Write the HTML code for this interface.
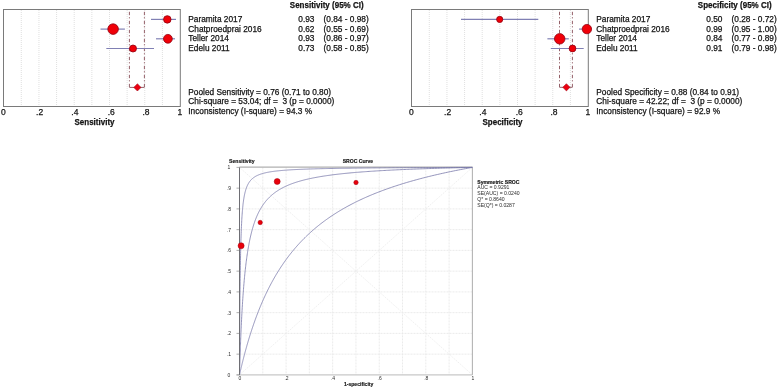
<!DOCTYPE html>
<html><head><meta charset="utf-8"><style>
html,body{margin:0;padding:0;background:#fff;width:778px;height:388px;overflow:hidden}
svg{display:block;white-space:pre;}
text{filter:grayscale(1);stroke:#222;stroke-width:0.25px;paint-order:stroke}
text.s{stroke:none;fill:#2a2a2a}
text.s[font-weight=bold]{stroke:#222;stroke-width:0.15px;fill:#111}
svg{font-family:"Liberation Sans",sans-serif}
</style></head><body>
<svg width="778" height="388" viewBox="0 0 778 388" font-family="Liberation Sans"><line x1="21.30" y1="10.0" x2="21.30" y2="106.0" stroke="#d8d8d8" stroke-width="0.8" stroke-dasharray="1,1"/>
<line x1="38.94" y1="10.0" x2="38.94" y2="106.0" stroke="#d8d8d8" stroke-width="0.8" stroke-dasharray="1,1"/>
<line x1="56.58" y1="10.0" x2="56.58" y2="106.0" stroke="#d8d8d8" stroke-width="0.8" stroke-dasharray="1,1"/>
<line x1="74.22" y1="10.0" x2="74.22" y2="106.0" stroke="#d8d8d8" stroke-width="0.8" stroke-dasharray="1,1"/>
<line x1="91.86" y1="10.0" x2="91.86" y2="106.0" stroke="#d8d8d8" stroke-width="0.8" stroke-dasharray="1,1"/>
<line x1="109.50" y1="10.0" x2="109.50" y2="106.0" stroke="#d8d8d8" stroke-width="0.8" stroke-dasharray="1,1"/>
<line x1="127.14" y1="10.0" x2="127.14" y2="106.0" stroke="#d8d8d8" stroke-width="0.8" stroke-dasharray="1,1"/>
<line x1="144.78" y1="10.0" x2="144.78" y2="106.0" stroke="#d8d8d8" stroke-width="0.8" stroke-dasharray="1,1"/>
<line x1="162.42" y1="10.0" x2="162.42" y2="106.0" stroke="#d8d8d8" stroke-width="0.8" stroke-dasharray="1,1"/>
<rect x="3.5" y="9.5" width="176.80" height="97.0" fill="none" stroke="#7a7a7a" stroke-width="1"/>
<text x="3.36" y="114.6" font-size="8.5" text-anchor="middle" fill="#111">0</text>
<text x="39.64" y="114.6" font-size="8.5" text-anchor="middle" fill="#111">.2</text>
<text x="74.92" y="114.6" font-size="8.5" text-anchor="middle" fill="#111">.4</text>
<text x="111.20" y="114.6" font-size="8.5" text-anchor="middle" fill="#111">.6</text>
<text x="145.98" y="114.6" font-size="8.5" text-anchor="middle" fill="#111">.8</text>
<text x="179.86" y="114.6" font-size="8.5" text-anchor="middle" fill="#111">1</text>
<text x="74.5" y="124.6" font-size="8.7" font-weight="bold" textLength="40" lengthAdjust="spacingAndGlyphs" fill="#111">Sensitivity</text>
<line x1="129.40" y1="10.0" x2="129.40" y2="87.4" stroke="#946068" stroke-width="1" stroke-dasharray="3.4,2,1.2,2.4" stroke-dashoffset="-1.8"/>
<line x1="144.40" y1="10.0" x2="144.40" y2="87.4" stroke="#946068" stroke-width="1" stroke-dasharray="3.4,2,1.2,2.4" stroke-dashoffset="-1.8"/>
<line x1="129.40" y1="87.4" x2="144.40" y2="87.4" stroke="#946068" stroke-width="1"/>
<polygon points="133.80,87.4 137.40,83.80000000000001 141.00,87.4 137.40,91.0" fill="#ec0010" stroke="#a01020" stroke-width="0.6"/>
<line x1="151.00" y1="19.4" x2="176.00" y2="19.4" stroke="#8080b4" stroke-width="1.2"/>
<circle cx="167.30" cy="19.4" r="3.75" fill="#f00008" stroke="#900010" stroke-width="0.8"/>
<text x="188.3" y="21.9" font-size="8.3" fill="#111">Paramita 2017</text>
<text x="298.3" y="21.9" font-size="8.3" fill="#111">0.93</text>
<text x="323.5" y="21.9" font-size="8.3" fill="#111">(0.84 - 0.98)</text>
<line x1="100.50" y1="29.1" x2="124.90" y2="29.1" stroke="#8080b4" stroke-width="1.2"/>
<circle cx="113.10" cy="29.1" r="5.3" fill="#f00008" stroke="#900010" stroke-width="0.8"/>
<text x="188.3" y="31.6" font-size="8.3" fill="#111">Chatproedprai 2016</text>
<text x="298.3" y="31.6" font-size="8.3" fill="#111">0.62</text>
<text x="323.5" y="31.6" font-size="8.3" fill="#111">(0.55 - 0.69)</text>
<line x1="156.00" y1="38.8" x2="175.00" y2="38.8" stroke="#8080b4" stroke-width="1.2"/>
<circle cx="167.90" cy="38.8" r="4.4" fill="#f00008" stroke="#900010" stroke-width="0.8"/>
<text x="188.3" y="41.4" font-size="8.3" fill="#111">Teller 2014</text>
<text x="298.3" y="41.4" font-size="8.3" fill="#111">0.93</text>
<text x="323.5" y="41.4" font-size="8.3" fill="#111">(0.86 - 0.97)</text>
<line x1="106.30" y1="48.5" x2="154.00" y2="48.5" stroke="#8080b4" stroke-width="1.2"/>
<circle cx="133.00" cy="48.5" r="3.5" fill="#f00008" stroke="#900010" stroke-width="0.8"/>
<text x="188.3" y="51.1" font-size="8.3" fill="#111">Edelu 2011</text>
<text x="298.3" y="51.1" font-size="8.3" fill="#111">0.73</text>
<text x="323.5" y="51.1" font-size="8.3" fill="#111">(0.58 - 0.85)</text>
<text x="289.8" y="7.6" font-size="8.7" font-weight="bold" textLength="73.8" lengthAdjust="spacingAndGlyphs" fill="#111">Sensitivity (95% CI)</text>
<text x="188.3" y="95.2" font-size="8.3" fill="#111">Pooled Sensitivity = 0.76 (0.71 to 0.80)</text>
<text x="188.3" y="104.4" font-size="8.3" fill="#111">Chi-square = 53.04; df = &#160;3 (p = 0.0000)</text>
<text x="188.3" y="113.8" font-size="8.3" fill="#111">Inconsistency (I-square) = 94.3 %</text>
<line x1="429.30" y1="10.0" x2="429.30" y2="106.0" stroke="#d8d8d8" stroke-width="0.8" stroke-dasharray="1,1"/>
<line x1="446.94" y1="10.0" x2="446.94" y2="106.0" stroke="#d8d8d8" stroke-width="0.8" stroke-dasharray="1,1"/>
<line x1="464.58" y1="10.0" x2="464.58" y2="106.0" stroke="#d8d8d8" stroke-width="0.8" stroke-dasharray="1,1"/>
<line x1="482.22" y1="10.0" x2="482.22" y2="106.0" stroke="#d8d8d8" stroke-width="0.8" stroke-dasharray="1,1"/>
<line x1="499.86" y1="10.0" x2="499.86" y2="106.0" stroke="#d8d8d8" stroke-width="0.8" stroke-dasharray="1,1"/>
<line x1="517.50" y1="10.0" x2="517.50" y2="106.0" stroke="#d8d8d8" stroke-width="0.8" stroke-dasharray="1,1"/>
<line x1="535.14" y1="10.0" x2="535.14" y2="106.0" stroke="#d8d8d8" stroke-width="0.8" stroke-dasharray="1,1"/>
<line x1="552.78" y1="10.0" x2="552.78" y2="106.0" stroke="#d8d8d8" stroke-width="0.8" stroke-dasharray="1,1"/>
<line x1="570.42" y1="10.0" x2="570.42" y2="106.0" stroke="#d8d8d8" stroke-width="0.8" stroke-dasharray="1,1"/>
<rect x="411.5" y="9.5" width="176.80" height="97.0" fill="none" stroke="#7a7a7a" stroke-width="1"/>
<text x="411.36" y="114.6" font-size="8.5" text-anchor="middle" fill="#111">0</text>
<text x="447.64" y="114.6" font-size="8.5" text-anchor="middle" fill="#111">.2</text>
<text x="482.92" y="114.6" font-size="8.5" text-anchor="middle" fill="#111">.4</text>
<text x="519.20" y="114.6" font-size="8.5" text-anchor="middle" fill="#111">.6</text>
<text x="553.98" y="114.6" font-size="8.5" text-anchor="middle" fill="#111">.8</text>
<text x="587.86" y="114.6" font-size="8.5" text-anchor="middle" fill="#111">1</text>
<text x="482.5" y="124.6" font-size="8.7" font-weight="bold" textLength="40" lengthAdjust="spacingAndGlyphs" fill="#111">Specificity</text>
<line x1="559.50" y1="10.0" x2="559.50" y2="87.3" stroke="#946068" stroke-width="1" stroke-dasharray="3.4,2,1.2,2.4" stroke-dashoffset="-1.8"/>
<line x1="572.40" y1="10.0" x2="572.40" y2="87.3" stroke="#946068" stroke-width="1" stroke-dasharray="3.4,2,1.2,2.4" stroke-dashoffset="-1.8"/>
<line x1="559.50" y1="87.3" x2="572.40" y2="87.3" stroke="#946068" stroke-width="1"/>
<polygon points="562.80,87.3 566.40,83.7 570.00,87.3 566.40,90.89999999999999" fill="#ec0010" stroke="#a01020" stroke-width="0.6"/>
<line x1="461.00" y1="19.4" x2="538.30" y2="19.4" stroke="#8080b4" stroke-width="1.2"/>
<circle cx="499.70" cy="19.4" r="3.1" fill="#f00008" stroke="#900010" stroke-width="0.8"/>
<text x="596.3" y="21.9" font-size="8.3" fill="#111">Paramita 2017</text>
<text x="706.3" y="21.9" font-size="8.3" fill="#111">0.50</text>
<text x="731.5" y="21.9" font-size="8.3" fill="#111">(0.28 - 0.72)</text>
<line x1="579.00" y1="29.1" x2="588.00" y2="29.1" stroke="#8080b4" stroke-width="1.2"/>
<circle cx="586.90" cy="29.1" r="4.7" fill="#f00008" stroke="#900010" stroke-width="0.8"/>
<text x="596.3" y="31.6" font-size="8.3" fill="#111">Chatproedprai 2016</text>
<text x="706.3" y="31.6" font-size="8.3" fill="#111">0.99</text>
<text x="731.5" y="31.6" font-size="8.3" fill="#111">(0.95 - 1.00)</text>
<line x1="547.40" y1="38.8" x2="568.80" y2="38.8" stroke="#8080b4" stroke-width="1.2"/>
<circle cx="559.70" cy="38.8" r="5.25" fill="#f00008" stroke="#900010" stroke-width="0.8"/>
<text x="596.3" y="41.4" font-size="8.3" fill="#111">Teller 2014</text>
<text x="706.3" y="41.4" font-size="8.3" fill="#111">0.84</text>
<text x="731.5" y="41.4" font-size="8.3" fill="#111">(0.77 - 0.89)</text>
<line x1="550.80" y1="48.5" x2="583.70" y2="48.5" stroke="#8080b4" stroke-width="1.2"/>
<circle cx="572.50" cy="48.5" r="3.4" fill="#f00008" stroke="#900010" stroke-width="0.8"/>
<text x="596.3" y="51.1" font-size="8.3" fill="#111">Edelu 2011</text>
<text x="706.3" y="51.1" font-size="8.3" fill="#111">0.91</text>
<text x="731.5" y="51.1" font-size="8.3" fill="#111">(0.79 - 0.98)</text>
<text x="697.8" y="7.6" font-size="8.7" font-weight="bold" textLength="73.8" lengthAdjust="spacingAndGlyphs" fill="#111">Specificity (95% CI)</text>
<text x="596.3" y="95.2" font-size="8.3" fill="#111">Pooled Specificity = 0.88 (0.84 to 0.91)</text>
<text x="596.3" y="104.4" font-size="8.3" fill="#111">Chi-square = 42.22; df = &#160;3 (p = 0.0000)</text>
<text x="596.3" y="113.8" font-size="8.3" fill="#111">Inconsistency (I-square) = 92.9 %</text>
<line x1="262.79" y1="167.4" x2="262.79" y2="374.9" stroke="#e9e9e9" stroke-width="0.9" stroke-dasharray="2,1"/>
<line x1="239.5" y1="354.15" x2="472.4" y2="354.15" stroke="#e9e9e9" stroke-width="0.9" stroke-dasharray="2,1"/>
<line x1="286.08" y1="167.4" x2="286.08" y2="374.9" stroke="#e9e9e9" stroke-width="0.9" stroke-dasharray="2,1"/>
<line x1="239.5" y1="333.40" x2="472.4" y2="333.40" stroke="#e9e9e9" stroke-width="0.9" stroke-dasharray="2,1"/>
<line x1="309.37" y1="167.4" x2="309.37" y2="374.9" stroke="#e9e9e9" stroke-width="0.9" stroke-dasharray="2,1"/>
<line x1="239.5" y1="312.65" x2="472.4" y2="312.65" stroke="#e9e9e9" stroke-width="0.9" stroke-dasharray="2,1"/>
<line x1="332.66" y1="167.4" x2="332.66" y2="374.9" stroke="#e9e9e9" stroke-width="0.9" stroke-dasharray="2,1"/>
<line x1="239.5" y1="291.90" x2="472.4" y2="291.90" stroke="#e9e9e9" stroke-width="0.9" stroke-dasharray="2,1"/>
<line x1="355.95" y1="167.4" x2="355.95" y2="374.9" stroke="#e9e9e9" stroke-width="0.9" stroke-dasharray="2,1"/>
<line x1="239.5" y1="271.15" x2="472.4" y2="271.15" stroke="#e9e9e9" stroke-width="0.9" stroke-dasharray="2,1"/>
<line x1="379.24" y1="167.4" x2="379.24" y2="374.9" stroke="#e9e9e9" stroke-width="0.9" stroke-dasharray="2,1"/>
<line x1="239.5" y1="250.40" x2="472.4" y2="250.40" stroke="#e9e9e9" stroke-width="0.9" stroke-dasharray="2,1"/>
<line x1="402.53" y1="167.4" x2="402.53" y2="374.9" stroke="#e9e9e9" stroke-width="0.9" stroke-dasharray="2,1"/>
<line x1="239.5" y1="229.65" x2="472.4" y2="229.65" stroke="#e9e9e9" stroke-width="0.9" stroke-dasharray="2,1"/>
<line x1="425.82" y1="167.4" x2="425.82" y2="374.9" stroke="#e9e9e9" stroke-width="0.9" stroke-dasharray="2,1"/>
<line x1="239.5" y1="208.90" x2="472.4" y2="208.90" stroke="#e9e9e9" stroke-width="0.9" stroke-dasharray="2,1"/>
<line x1="449.11" y1="167.4" x2="449.11" y2="374.9" stroke="#e9e9e9" stroke-width="0.9" stroke-dasharray="2,1"/>
<line x1="239.5" y1="188.15" x2="472.4" y2="188.15" stroke="#e9e9e9" stroke-width="0.9" stroke-dasharray="2,1"/>
<line x1="239.5" y1="374.9" x2="472.4" y2="167.4" stroke="#ebebeb" stroke-width="0.8" stroke-dasharray="1.5,1"/>
<line x1="239.5" y1="167.4" x2="472.4" y2="374.9" stroke="#ebebeb" stroke-width="0.8" stroke-dasharray="1.5,1"/>
<line x1="239.5" y1="167.1" x2="472.4" y2="167.1" stroke="#b0b0b0" stroke-width="1.2"/>
<line x1="472.4" y1="167.4" x2="472.4" y2="374.9" stroke="#b4b4b4" stroke-width="1.1"/>
<line x1="236.5" y1="374.9" x2="472.4" y2="374.9" stroke="#c8c8c8" stroke-width="1.4"/>
<line x1="236.5" y1="374.90" x2="239.5" y2="374.90" stroke="#9a9a9a" stroke-width="0.8"/>
<line x1="236.5" y1="354.15" x2="239.5" y2="354.15" stroke="#9a9a9a" stroke-width="0.8"/>
<line x1="236.5" y1="333.40" x2="239.5" y2="333.40" stroke="#9a9a9a" stroke-width="0.8"/>
<line x1="236.5" y1="312.65" x2="239.5" y2="312.65" stroke="#9a9a9a" stroke-width="0.8"/>
<line x1="236.5" y1="291.90" x2="239.5" y2="291.90" stroke="#9a9a9a" stroke-width="0.8"/>
<line x1="236.5" y1="271.15" x2="239.5" y2="271.15" stroke="#9a9a9a" stroke-width="0.8"/>
<line x1="236.5" y1="250.40" x2="239.5" y2="250.40" stroke="#9a9a9a" stroke-width="0.8"/>
<line x1="236.5" y1="229.65" x2="239.5" y2="229.65" stroke="#9a9a9a" stroke-width="0.8"/>
<line x1="236.5" y1="208.90" x2="239.5" y2="208.90" stroke="#9a9a9a" stroke-width="0.8"/>
<line x1="236.5" y1="188.15" x2="239.5" y2="188.15" stroke="#9a9a9a" stroke-width="0.8"/>
<line x1="236.5" y1="167.40" x2="239.5" y2="167.40" stroke="#9a9a9a" stroke-width="0.8"/>
<polyline points="239.50,374.90 239.50,374.90 239.50,374.90 239.50,374.90 239.50,374.90 239.50,374.90 239.50,374.90 239.50,374.89 239.50,374.89 239.50,374.89 239.50,374.88 239.50,374.88 239.51,374.87 239.51,374.86 239.51,374.86 239.51,374.85 239.51,374.83 239.52,374.82 239.52,374.81 239.52,374.79 239.53,374.77 239.53,374.75 239.54,374.73 239.54,374.70 239.55,374.68 239.56,374.65 239.56,374.62 239.57,374.58 239.58,374.54 239.59,374.51 239.60,374.46 239.61,374.42 239.62,374.37 239.63,374.32 239.64,374.26 239.66,374.21 239.67,374.15 239.68,374.08 239.70,374.01 239.72,373.94 239.73,373.87 239.75,373.79 239.77,373.70 239.79,373.62 239.81,373.53 239.83,373.43 239.85,373.33 239.88,373.23 239.90,373.12 239.93,373.01 239.95,372.89 239.98,372.77 240.01,372.64 240.04,372.51 240.07,372.37 240.11,372.23 240.14,372.08 240.17,371.93 240.21,371.77 240.25,371.61 240.29,371.44 240.33,371.27 240.37,371.09 240.41,370.91 240.45,370.72 240.50,370.52 240.55,370.32 240.59,370.11 240.64,369.90 240.70,369.68 240.75,369.45 240.80,369.22 240.86,368.98 240.92,368.74 240.97,368.49 241.04,368.23 241.10,367.97 241.16,367.70 241.23,367.42 241.29,367.14 241.36,366.85 241.43,366.56 241.51,366.25 241.58,365.95 241.66,365.63 241.73,365.31 241.81,364.98 241.90,364.64 241.98,364.30 242.07,363.95 242.15,363.59 242.24,363.23 242.33,362.86 242.43,362.48 242.52,362.09 242.62,361.70 242.72,361.30 242.82,360.90 242.93,360.48 243.03,360.06 243.14,359.63 243.25,359.20 243.36,358.76 243.48,358.31 243.59,357.85 243.71,357.39 243.83,356.92 243.96,356.44 244.08,355.96 244.21,355.47 244.34,354.97 244.48,354.46 244.61,353.95 244.75,353.43 244.89,352.91 245.03,352.37 245.18,351.83 245.33,351.29 245.48,350.73 245.63,350.17 245.79,349.61 245.95,349.03 246.11,348.45 246.27,347.86 246.44,347.27 246.61,346.67 246.78,346.06 246.95,345.45 247.13,344.83 247.31,344.20 247.50,343.57 247.68,342.93 247.87,342.29 248.06,341.63 248.26,340.98 248.45,340.31 248.65,339.65 248.86,338.97 249.06,338.29 249.27,337.60 249.49,336.91 249.70,336.21 249.92,335.51 250.14,334.80 250.37,334.09 250.59,333.37 250.83,332.65 251.06,331.92 251.30,331.18 251.54,330.44 251.78,329.70 252.03,328.95 252.28,328.20 252.53,327.44 252.79,326.68 253.05,325.91 253.32,325.14 253.58,324.36 253.85,323.58 254.13,322.80 254.41,322.01 254.69,321.22 254.97,320.43 255.26,319.63 255.55,318.82 255.85,318.02 256.15,317.21 256.45,316.40 256.76,315.58 257.07,314.76 257.38,313.94 257.70,313.12 258.02,312.29 258.34,311.46 258.67,310.63 259.00,309.79 259.34,308.96 259.68,308.12 260.02,307.28 260.37,306.43 260.72,305.59 261.08,304.74 261.44,303.89 261.80,303.04 262.17,302.19 262.54,301.33 262.92,300.48 263.30,299.62 263.68,298.76 264.07,297.91 264.46,297.05 264.86,296.18 265.26,295.32 265.66,294.46 266.07,293.60 266.48,292.73 266.90,291.87 267.32,291.01 267.75,290.14 268.18,289.28 268.61,288.41 269.05,287.55 269.49,286.68 269.94,285.82 270.39,284.96 270.85,284.09 271.31,283.23 271.78,282.37 272.25,281.50 272.72,280.64 273.20,279.78 273.69,278.92 274.17,278.06 274.67,277.20 275.16,276.35 275.67,275.49 276.17,274.64 276.69,273.78 277.20,272.93 277.72,272.08 278.25,271.23 278.78,270.38 279.32,269.54 279.86,268.69 280.40,267.85 280.95,267.01 281.51,266.17 282.07,265.33 282.63,264.50 283.20,263.66 283.78,262.83 284.36,262.00 284.94,261.18 285.53,260.35 286.13,259.53 286.73,258.71 287.33,257.89 287.94,257.08 288.56,256.26 289.18,255.45 289.81,254.65 290.44,253.84 291.07,253.04 291.72,252.24 292.36,251.44 293.02,250.65 293.67,249.86 294.34,249.07 295.01,248.28 295.68,247.50 296.36,246.72 297.05,245.95 297.74,245.17 298.43,244.40 299.13,243.64 299.84,242.87 300.55,242.11 301.27,241.35 302.00,240.60 302.72,239.85 303.46,239.10 304.20,238.35 304.95,237.61 305.70,236.87 306.46,236.14 307.22,235.41 307.99,234.68 308.77,233.96 309.55,233.23 310.33,232.52 311.13,231.80 311.93,231.09 312.73,230.38 313.54,229.68 314.36,228.98 315.18,228.28 316.01,227.59 316.84,226.90 317.69,226.21 318.53,225.53 319.38,224.85 320.24,224.17 321.11,223.50 321.98,222.83 322.86,222.17 323.74,221.51 324.63,220.85 325.53,220.20 326.43,219.54 327.34,218.90 328.25,218.25 329.17,217.61 330.10,216.98 331.04,216.35 331.98,215.72 332.92,215.09 333.88,214.47 334.84,213.85 335.80,213.24 336.78,212.62 337.75,212.02 338.74,211.41 339.73,210.81 340.73,210.22 341.74,209.62 342.75,209.03 343.77,208.45 344.79,207.86 345.83,207.28 346.87,206.71 347.91,206.14 348.96,205.57 350.02,205.00 351.09,204.44 352.16,203.88 353.24,203.33 354.33,202.78 355.42,202.23 356.52,201.68 357.63,201.14 358.74,200.61 359.87,200.07 360.99,199.54 362.13,199.01 363.27,198.49 364.42,197.97 365.58,197.45 366.74,196.94 367.91,196.43 369.09,195.92 370.28,195.42 371.47,194.92 372.67,194.42 373.88,193.92 375.09,193.43 376.31,192.94 377.54,192.46 378.78,191.98 380.02,191.50 381.27,191.03 382.53,190.55 383.80,190.08 385.07,189.62 386.35,189.16 387.64,188.70 388.93,188.24 390.24,187.79 391.55,187.34 392.87,186.89 394.19,186.45 395.52,186.00 396.87,185.57 398.21,185.13 399.57,184.70 400.94,184.27 402.31,183.84 403.69,183.42 405.07,183.00 406.47,182.58 407.87,182.16 409.28,181.75 410.70,181.34 412.13,180.94 413.56,180.53 415.01,180.13 416.46,179.73 417.92,179.34 419.38,178.94 420.86,178.55 422.34,178.17 423.83,177.78 425.33,177.40 426.83,177.02 428.35,176.64 429.87,176.27 431.40,175.90 432.94,175.53 434.49,175.16 436.05,174.80 437.61,174.44 439.18,174.08 440.76,173.72 442.35,173.37 443.95,173.02 445.56,172.67 447.17,172.32 448.79,171.98 450.42,171.63 452.06,171.29 453.71,170.96 455.37,170.62 457.03,170.29 458.70,169.96 460.39,169.63 462.08,169.31 463.77,168.98 465.48,168.66 467.20,168.34 468.92,168.03 470.66,167.71 472.40,167.40" fill="none" stroke="#7878aa" stroke-width="0.8"/>
<polyline points="239.50,374.90 239.50,374.90 239.50,374.90 239.50,374.90 239.50,374.89 239.50,374.88 239.50,374.87 239.50,374.86 239.50,374.83 239.50,374.80 239.50,374.77 239.50,374.73 239.51,374.67 239.51,374.61 239.51,374.54 239.51,374.46 239.51,374.37 239.52,374.26 239.52,374.14 239.52,374.01 239.53,373.86 239.53,373.69 239.54,373.52 239.54,373.32 239.55,373.11 239.56,372.87 239.56,372.62 239.57,372.35 239.58,372.07 239.59,371.76 239.60,371.42 239.61,371.07 239.62,370.70 239.63,370.30 239.64,369.88 239.66,369.43 239.67,368.96 239.68,368.47 239.70,367.95 239.72,367.41 239.73,366.84 239.75,366.25 239.77,365.63 239.79,364.98 239.81,364.31 239.83,363.61 239.85,362.88 239.88,362.13 239.90,361.35 239.93,360.54 239.95,359.71 239.98,358.85 240.01,357.96 240.04,357.05 240.07,356.11 240.11,355.15 240.14,354.16 240.17,353.14 240.21,352.10 240.25,351.04 240.29,349.95 240.33,348.83 240.37,347.70 240.41,346.54 240.45,345.36 240.50,344.15 240.55,342.93 240.59,341.68 240.64,340.42 240.70,339.13 240.75,337.83 240.80,336.51 240.86,335.17 240.92,333.82 240.97,332.45 241.04,331.06 241.10,329.66 241.16,328.25 241.23,326.83 241.29,325.39 241.36,323.94 241.43,322.48 241.51,321.01 241.58,319.54 241.66,318.05 241.73,316.56 241.81,315.07 241.90,313.56 241.98,312.05 242.07,310.54 242.15,309.03 242.24,307.51 242.33,305.99 242.43,304.47 242.52,302.95 242.62,301.43 242.72,299.92 242.82,298.40 242.93,296.89 243.03,295.37 243.14,293.87 243.25,292.36 243.36,290.87 243.48,289.37 243.59,287.89 243.71,286.41 243.83,284.93 243.96,283.47 244.08,282.01 244.21,280.56 244.34,279.12 244.48,277.69 244.61,276.27 244.75,274.85 244.89,273.45 245.03,272.06 245.18,270.68 245.33,269.31 245.48,267.95 245.63,266.61 245.79,265.27 245.95,263.95 246.11,262.64 246.27,261.34 246.44,260.06 246.61,258.78 246.78,257.52 246.95,256.28 247.13,255.04 247.31,253.82 247.50,252.62 247.68,251.42 247.87,250.24 248.06,249.08 248.26,247.92 248.45,246.78 248.65,245.66 248.86,244.55 249.06,243.45 249.27,242.36 249.49,241.29 249.70,240.23 249.92,239.19 250.14,238.15 250.37,237.14 250.59,236.13 250.83,235.14 251.06,234.16 251.30,233.19 251.54,232.24 251.78,231.30 252.03,230.37 252.28,229.46 252.53,228.56 252.79,227.67 253.05,226.79 253.32,225.92 253.58,225.07 253.85,224.23 254.13,223.40 254.41,222.58 254.69,221.78 254.97,220.98 255.26,220.20 255.55,219.43 255.85,218.67 256.15,217.92 256.45,217.18 256.76,216.45 257.07,215.74 257.38,215.03 257.70,214.33 258.02,213.65 258.34,212.97 258.67,212.31 259.00,211.65 259.34,211.00 259.68,210.37 260.02,209.74 260.37,209.12 260.72,208.51 261.08,207.91 261.44,207.32 261.80,206.74 262.17,206.16 262.54,205.60 262.92,205.04 263.30,204.49 263.68,203.95 264.07,203.42 264.46,202.90 264.86,202.38 265.26,201.87 265.66,201.37 266.07,200.88 266.48,200.39 266.90,199.91 267.32,199.44 267.75,198.97 268.18,198.52 268.61,198.07 269.05,197.62 269.49,197.18 269.94,196.75 270.39,196.33 270.85,195.91 271.31,195.49 271.78,195.09 272.25,194.69 272.72,194.29 273.20,193.90 273.69,193.52 274.17,193.14 274.67,192.77 275.16,192.40 275.67,192.04 276.17,191.69 276.69,191.33 277.20,190.99 277.72,190.65 278.25,190.31 278.78,189.98 279.32,189.65 279.86,189.33 280.40,189.02 280.95,188.70 281.51,188.40 282.07,188.09 282.63,187.79 283.20,187.50 283.78,187.21 284.36,186.92 284.94,186.64 285.53,186.36 286.13,186.09 286.73,185.82 287.33,185.55 287.94,185.29 288.56,185.03 289.18,184.77 289.81,184.52 290.44,184.27 291.07,184.02 291.72,183.78 292.36,183.54 293.02,183.31 293.67,183.08 294.34,182.85 295.01,182.62 295.68,182.40 296.36,182.18 297.05,181.96 297.74,181.75 298.43,181.54 299.13,181.33 299.84,181.13 300.55,180.93 301.27,180.73 302.00,180.53 302.72,180.34 303.46,180.14 304.20,179.95 304.95,179.77 305.70,179.58 306.46,179.40 307.22,179.22 307.99,179.05 308.77,178.87 309.55,178.70 310.33,178.53 311.13,178.36 311.93,178.20 312.73,178.03 313.54,177.87 314.36,177.71 315.18,177.56 316.01,177.40 316.84,177.25 317.69,177.10 318.53,176.95 319.38,176.80 320.24,176.65 321.11,176.51 321.98,176.37 322.86,176.23 323.74,176.09 324.63,175.95 325.53,175.82 326.43,175.69 327.34,175.56 328.25,175.43 329.17,175.30 330.10,175.17 331.04,175.05 331.98,174.92 332.92,174.80 333.88,174.68 334.84,174.56 335.80,174.44 336.78,174.33 337.75,174.21 338.74,174.10 339.73,173.99 340.73,173.88 341.74,173.77 342.75,173.66 343.77,173.55 344.79,173.45 345.83,173.34 346.87,173.24 347.91,173.14 348.96,173.04 350.02,172.94 351.09,172.84 352.16,172.74 353.24,172.65 354.33,172.55 355.42,172.46 356.52,172.37 357.63,172.28 358.74,172.19 359.87,172.10 360.99,172.01 362.13,171.92 363.27,171.84 364.42,171.75 365.58,171.67 366.74,171.58 367.91,171.50 369.09,171.42 370.28,171.34 371.47,171.26 372.67,171.18 373.88,171.10 375.09,171.02 376.31,170.95 377.54,170.87 378.78,170.80 380.02,170.73 381.27,170.65 382.53,170.58 383.80,170.51 385.07,170.44 386.35,170.37 387.64,170.30 388.93,170.23 390.24,170.16 391.55,170.10 392.87,170.03 394.19,169.97 395.52,169.90 396.87,169.84 398.21,169.78 399.57,169.71 400.94,169.65 402.31,169.59 403.69,169.53 405.07,169.47 406.47,169.41 407.87,169.35 409.28,169.29 410.70,169.24 412.13,169.18 413.56,169.12 415.01,169.07 416.46,169.01 417.92,168.96 419.38,168.90 420.86,168.85 422.34,168.80 423.83,168.75 425.33,168.69 426.83,168.64 428.35,168.59 429.87,168.54 431.40,168.49 432.94,168.44 434.49,168.39 436.05,168.35 437.61,168.30 439.18,168.25 440.76,168.20 442.35,168.16 443.95,168.11 445.56,168.07 447.17,168.02 448.79,167.98 450.42,167.93 452.06,167.89 453.71,167.85 455.37,167.80 457.03,167.76 458.70,167.72 460.39,167.68 462.08,167.64 463.77,167.60 465.48,167.56 467.20,167.52 468.92,167.48 470.66,167.44 472.40,167.40" fill="none" stroke="#7878aa" stroke-width="0.8"/>
<polyline points="239.50,374.90 239.50,374.90 239.50,374.89 239.50,374.87 239.50,374.84 239.50,374.78 239.50,374.69 239.50,374.57 239.50,374.41 239.50,374.20 239.50,373.94 239.50,373.62 239.51,373.24 239.51,372.79 239.51,372.27 239.51,371.68 239.51,371.01 239.52,370.25 239.52,369.40 239.52,368.46 239.53,367.43 239.53,366.30 239.54,365.07 239.54,363.74 239.55,362.31 239.56,360.79 239.56,359.16 239.57,357.43 239.58,355.60 239.59,353.68 239.60,351.66 239.61,349.55 239.62,347.35 239.63,345.07 239.64,342.70 239.66,340.27 239.67,337.76 239.68,335.18 239.70,332.55 239.72,329.86 239.73,327.12 239.75,324.34 239.77,321.52 239.79,318.67 239.81,315.79 239.83,312.90 239.85,309.99 239.88,307.07 239.90,304.15 239.93,301.24 239.95,298.33 239.98,295.43 240.01,292.55 240.04,289.69 240.07,286.85 240.11,284.04 240.14,281.26 240.17,278.52 240.21,275.82 240.25,273.15 240.29,270.53 240.33,267.95 240.37,265.41 240.41,262.92 240.45,260.48 240.50,258.09 240.55,255.75 240.59,253.46 240.64,251.22 240.70,249.03 240.75,246.89 240.80,244.80 240.86,242.77 240.92,240.78 240.97,238.84 241.04,236.96 241.10,235.12 241.16,233.33 241.23,231.59 241.29,229.89 241.36,228.25 241.43,226.64 241.51,225.08 241.58,223.57 241.66,222.10 241.73,220.66 241.81,219.27 241.90,217.92 241.98,216.61 242.07,215.34 242.15,214.10 242.24,212.89 242.33,211.73 242.43,210.59 242.52,209.49 242.62,208.42 242.72,207.38 242.82,206.38 242.93,205.40 243.03,204.45 243.14,203.53 243.25,202.63 243.36,201.76 243.48,200.91 243.59,200.09 243.71,199.30 243.83,198.52 243.96,197.77 244.08,197.04 244.21,196.33 244.34,195.64 244.48,194.97 244.61,194.32 244.75,193.69 244.89,193.07 245.03,192.48 245.18,191.89 245.33,191.33 245.48,190.78 245.63,190.25 245.79,189.73 245.95,189.22 246.11,188.73 246.27,188.25 246.44,187.79 246.61,187.34 246.78,186.90 246.95,186.47 247.13,186.05 247.31,185.65 247.50,185.25 247.68,184.87 247.87,184.49 248.06,184.13 248.26,183.77 248.45,183.42 248.65,183.09 248.86,182.76 249.06,182.44 249.27,182.13 249.49,181.82 249.70,181.53 249.92,181.24 250.14,180.95 250.37,180.68 250.59,180.41 250.83,180.15 251.06,179.89 251.30,179.64 251.54,179.40 251.78,179.16 252.03,178.93 252.28,178.71 252.53,178.49 252.79,178.27 253.05,178.06 253.32,177.86 253.58,177.65 253.85,177.46 254.13,177.27 254.41,177.08 254.69,176.90 254.97,176.72 255.26,176.54 255.55,176.37 255.85,176.21 256.15,176.04 256.45,175.88 256.76,175.73 257.07,175.58 257.38,175.43 257.70,175.28 258.02,175.14 258.34,175.00 258.67,174.86 259.00,174.73 259.34,174.60 259.68,174.47 260.02,174.34 260.37,174.22 260.72,174.10 261.08,173.98 261.44,173.87 261.80,173.76 262.17,173.64 262.54,173.54 262.92,173.43 263.30,173.33 263.68,173.22 264.07,173.12 264.46,173.03 264.86,172.93 265.26,172.84 265.66,172.75 266.07,172.65 266.48,172.57 266.90,172.48 267.32,172.39 267.75,172.31 268.18,172.23 268.61,172.15 269.05,172.07 269.49,171.99 269.94,171.92 270.39,171.84 270.85,171.77 271.31,171.70 271.78,171.63 272.25,171.56 272.72,171.49 273.20,171.42 273.69,171.36 274.17,171.29 274.67,171.23 275.16,171.17 275.67,171.11 276.17,171.05 276.69,170.99 277.20,170.93 277.72,170.88 278.25,170.82 278.78,170.77 279.32,170.71 279.86,170.66 280.40,170.61 280.95,170.56 281.51,170.51 282.07,170.46 282.63,170.41 283.20,170.36 283.78,170.32 284.36,170.27 284.94,170.23 285.53,170.18 286.13,170.14 286.73,170.09 287.33,170.05 287.94,170.01 288.56,169.97 289.18,169.93 289.81,169.89 290.44,169.85 291.07,169.81 291.72,169.77 292.36,169.74 293.02,169.70 293.67,169.67 294.34,169.63 295.01,169.60 295.68,169.56 296.36,169.53 297.05,169.49 297.74,169.46 298.43,169.43 299.13,169.40 299.84,169.37 300.55,169.34 301.27,169.31 302.00,169.28 302.72,169.25 303.46,169.22 304.20,169.19 304.95,169.16 305.70,169.13 306.46,169.11 307.22,169.08 307.99,169.05 308.77,169.03 309.55,169.00 310.33,168.98 311.13,168.95 311.93,168.93 312.73,168.90 313.54,168.88 314.36,168.86 315.18,168.83 316.01,168.81 316.84,168.79 317.69,168.76 318.53,168.74 319.38,168.72 320.24,168.70 321.11,168.68 321.98,168.66 322.86,168.64 323.74,168.62 324.63,168.60 325.53,168.58 326.43,168.56 327.34,168.54 328.25,168.52 329.17,168.50 330.10,168.48 331.04,168.47 331.98,168.45 332.92,168.43 333.88,168.41 334.84,168.40 335.80,168.38 336.78,168.36 337.75,168.35 338.74,168.33 339.73,168.31 340.73,168.30 341.74,168.28 342.75,168.27 343.77,168.25 344.79,168.24 345.83,168.22 346.87,168.21 347.91,168.19 348.96,168.18 350.02,168.17 351.09,168.15 352.16,168.14 353.24,168.12 354.33,168.11 355.42,168.10 356.52,168.09 357.63,168.07 358.74,168.06 359.87,168.05 360.99,168.03 362.13,168.02 363.27,168.01 364.42,168.00 365.58,167.99 366.74,167.97 367.91,167.96 369.09,167.95 370.28,167.94 371.47,167.93 372.67,167.92 373.88,167.91 375.09,167.90 376.31,167.89 377.54,167.88 378.78,167.87 380.02,167.86 381.27,167.85 382.53,167.84 383.80,167.83 385.07,167.82 386.35,167.81 387.64,167.80 388.93,167.79 390.24,167.78 391.55,167.77 392.87,167.76 394.19,167.75 395.52,167.74 396.87,167.73 398.21,167.72 399.57,167.72 400.94,167.71 402.31,167.70 403.69,167.69 405.07,167.68 406.47,167.67 407.87,167.67 409.28,167.66 410.70,167.65 412.13,167.64 413.56,167.63 415.01,167.63 416.46,167.62 417.92,167.61 419.38,167.60 420.86,167.60 422.34,167.59 423.83,167.58 425.33,167.58 426.83,167.57 428.35,167.56 429.87,167.55 431.40,167.55 432.94,167.54 434.49,167.53 436.05,167.53 437.61,167.52 439.18,167.52 440.76,167.51 442.35,167.50 443.95,167.50 445.56,167.49 447.17,167.48 448.79,167.48 450.42,167.47 452.06,167.47 453.71,167.46 455.37,167.45 457.03,167.45 458.70,167.44 460.39,167.44 462.08,167.43 463.77,167.43 465.48,167.42 467.20,167.42 468.92,167.41 470.66,167.41 472.40,167.40" fill="none" stroke="#7878aa" stroke-width="0.8"/>
<line x1="239.5" y1="167.4" x2="239.5" y2="374.9" stroke="#6e6e74" stroke-width="1"/>
<circle cx="356" cy="182.5" r="2.2" fill="#e8000a" stroke="#a00010" stroke-width="0.5"/>
<circle cx="241.1" cy="245.8" r="3.05" fill="#e8000a" stroke="#a00010" stroke-width="0.5"/>
<circle cx="277.2" cy="181.5" r="3.0" fill="#e8000a" stroke="#a00010" stroke-width="0.5"/>
<circle cx="260.2" cy="222.5" r="2.2" fill="#e8000a" stroke="#a00010" stroke-width="0.5"/>
<text transform="translate(228.90,376.80) scale(1,1.15)" x="0" y="0" font-size="5" class="s" text-anchor="middle" fill="#111">0</text>
<text transform="translate(228.90,356.05) scale(1,1.15)" x="0" y="0" font-size="5" class="s" text-anchor="middle" fill="#111">.1</text>
<text transform="translate(228.90,335.30) scale(1,1.15)" x="0" y="0" font-size="5" class="s" text-anchor="middle" fill="#111">.2</text>
<text transform="translate(228.90,314.55) scale(1,1.15)" x="0" y="0" font-size="5" class="s" text-anchor="middle" fill="#111">.3</text>
<text transform="translate(228.90,293.80) scale(1,1.15)" x="0" y="0" font-size="5" class="s" text-anchor="middle" fill="#111">.4</text>
<text transform="translate(228.90,273.05) scale(1,1.15)" x="0" y="0" font-size="5" class="s" text-anchor="middle" fill="#111">.5</text>
<text transform="translate(228.90,252.30) scale(1,1.15)" x="0" y="0" font-size="5" class="s" text-anchor="middle" fill="#111">.6</text>
<text transform="translate(228.90,231.55) scale(1,1.15)" x="0" y="0" font-size="5" class="s" text-anchor="middle" fill="#111">.7</text>
<text transform="translate(228.90,210.80) scale(1,1.15)" x="0" y="0" font-size="5" class="s" text-anchor="middle" fill="#111">.8</text>
<text transform="translate(228.90,190.05) scale(1,1.15)" x="0" y="0" font-size="5" class="s" text-anchor="middle" fill="#111">.9</text>
<text transform="translate(228.90,169.30) scale(1,1.15)" x="0" y="0" font-size="5" class="s" text-anchor="middle" fill="#111">1</text>
<text transform="translate(239.90,380.20) scale(1,1.15)" x="0" y="0" font-size="5" class="s" text-anchor="middle" fill="#111">0</text>
<text transform="translate(286.48,380.20) scale(1,1.15)" x="0" y="0" font-size="5" class="s" text-anchor="middle" fill="#111">.2</text>
<text transform="translate(333.06,380.20) scale(1,1.15)" x="0" y="0" font-size="5" class="s" text-anchor="middle" fill="#111">.4</text>
<text transform="translate(379.64,380.20) scale(1,1.15)" x="0" y="0" font-size="5" class="s" text-anchor="middle" fill="#111">.6</text>
<text transform="translate(426.22,380.20) scale(1,1.15)" x="0" y="0" font-size="5" class="s" text-anchor="middle" fill="#111">.8</text>
<text transform="translate(472.80,380.20) scale(1,1.15)" x="0" y="0" font-size="5" class="s" text-anchor="middle" fill="#111">1</text>
<text transform="translate(229.00,162.90) scale(1,1.15)" x="0" y="0" font-size="5.15" class="s" font-weight="bold" text-anchor="start" fill="#111">Sensitivity</text>
<text transform="translate(357.90,162.90) scale(1,1.15)" x="0" y="0" font-size="5.1" class="s" font-weight="bold" text-anchor="middle" fill="#111">SROC Curve</text>
<text transform="translate(358.60,385.70) scale(1,1.15)" x="0" y="0" font-size="5.1" class="s" font-weight="bold" text-anchor="middle" fill="#111">1-specificity</text>
<text transform="translate(477.30,183.80) scale(1,1.15)" x="0" y="0" font-size="5.1" class="s" font-weight="bold" text-anchor="start" fill="#111">Symmetric SROC</text>
<text transform="translate(477.30,189.40) scale(1,1.15)" x="0" y="0" font-size="5.1" class="s" text-anchor="start" fill="#111">AUC = 0.9291</text>
<text transform="translate(477.30,195.15) scale(1,1.15)" x="0" y="0" font-size="5.1" class="s" text-anchor="start" fill="#111">SE(AUC) = 0.0240</text>
<text transform="translate(477.30,200.90) scale(1,1.15)" x="0" y="0" font-size="5.1" class="s" text-anchor="start" fill="#111">Q* = 0.8640</text>
<text transform="translate(477.30,206.65) scale(1,1.15)" x="0" y="0" font-size="5.1" class="s" text-anchor="start" fill="#111">SE(Q*) = 0.0287</text></svg>
</body></html>
